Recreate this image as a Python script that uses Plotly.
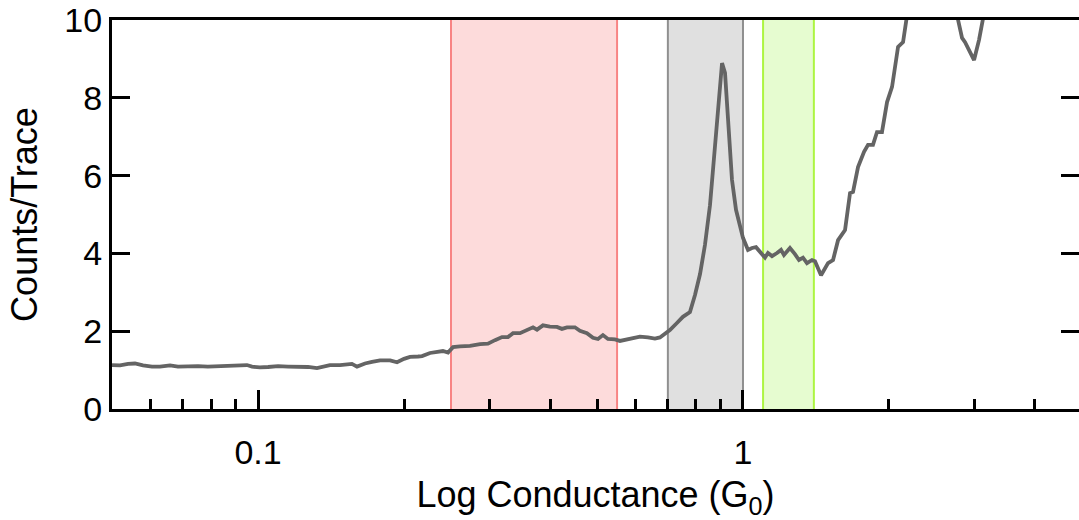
import plotly.graph_objects as go

# Conductance (G0) and counts per trace
conductance = [
    0.0500, 0.05194, 0.05395, 0.05577, 0.05793, 0.06045, 0.06279, 0.06586, 0.06840, 0.07173,
    0.07522, 0.07882, 0.08273, 0.08672, 0.09095, 0.09490, 0.09719, 0.1009, 0.1049, 0.1100,
    0.1153, 0.1209, 0.1268, 0.1323, 0.1407, 0.1476, 0.1562, 0.1600, 0.1662, 0.1718,
    0.1785, 0.1872, 0.1935, 0.2000, 0.2058, 0.2138, 0.2179, 0.2263, 0.2339, 0.2406,
    0.2465, 0.2524, 0.2609, 0.2736, 0.2869, 0.2980, 0.3081, 0.3185, 0.3277, 0.3356,
    0.3469, 0.3586, 0.3690, 0.3761, 0.3869, 0.3999, 0.4134, 0.4233, 0.4336, 0.4503,
    0.4611, 0.4767, 0.4905, 0.5023, 0.5143, 0.5267, 0.5445, 0.5576, 0.5764, 0.5931,
    0.6131, 0.6368, 0.6583, 0.6741, 0.6903, 0.7068, 0.7307, 0.7518, 0.7774, 0.7962,
    0.8155, 0.8349, 0.8550, 0.8756, 0.8966, 0.9053, 0.9182, 0.9313, 0.9491, 0.9674,
    0.9858, 1.0000, 1.0240, 1.0437, 1.0637, 1.0841, 1.1100, 1.1260, 1.1477, 1.1753,
    1.1978, 1.2147, 1.2498, 1.2798, 1.3045, 1.3295, 1.3551, 1.3876, 1.4075, 1.4485,
    1.4976, 1.5335, 1.5703, 1.6233, 1.6622, 1.6861, 1.7265, 1.7765, 1.8105, 1.8535,
    1.8893, 1.9345, 1.9817, 2.0292, 2.0880, 2.1380, 2.1689, 2.2630, 2.4300, 2.6095,
    2.7762, 2.8292, 2.8698, 2.9388, 2.9950, 3.0668, 3.1257, 3.2317, 3.5522, 4.0970,
    4.7230,
]
counts_per_trace = [
    1.13, 1.12, 1.16, 1.17, 1.12, 1.09, 1.09, 1.12, 1.09, 1.10,
    1.10, 1.09, 1.10, 1.09, 1.10, 1.13, 1.09, 1.07, 1.08, 1.10,
    1.09, 1.09, 1.08, 1.05, 1.13, 1.13, 1.16, 1.09, 1.17, 1.21,
    1.25, 1.25, 1.20, 1.29, 1.34, 1.35, 1.36, 1.44, 1.48, 1.49,
    1.45, 1.59, 1.61, 1.62, 1.67, 1.68, 1.77, 1.85, 1.85, 1.95,
    1.95, 2.03, 2.10, 2.04, 2.15, 2.12, 2.11, 2.06, 2.10, 2.10,
    2.01, 1.95, 1.83, 1.80, 1.90, 1.80, 1.79, 1.75, 1.79, 1.81,
    1.86, 1.84, 1.81, 1.84, 1.93, 2.03, 2.21, 2.37, 2.49, 2.93,
    3.47, 4.22, 5.24, 6.79, 8.33, 8.89, 8.64, 7.30, 5.89, 5.12,
    4.65, 4.40, 4.09, 4.14, 4.16, 4.04, 3.89, 4.01, 3.93, 4.01,
    4.09, 3.96, 4.14, 3.98, 3.83, 3.89, 3.75, 3.83, 3.80, 3.44,
    3.75, 3.83, 4.34, 4.60, 5.55, 5.58, 6.22, 6.61, 6.79, 6.79,
    7.12, 7.12, 7.89, 8.28, 9.31, 9.43, 10.0, 11.5, 13.0, 12.0,
    10.0, 9.54, 9.43, 9.15, 8.97, 9.49, 10.0, 11.0, 12.5, 14.0,
    15.0,
]

# Highlighted conductance windows (G0)
band_starts = [0.25, 0.70, 1.10]
band_ends = [0.55, 1.00, 1.40]
band_fills = ["#FDDBDB", "#E0E0E0", "#E6FCD0"]
band_edges = ["#F88484", "#8F8F8F", "#ADF542"]

x_tickvals = [0.1, 1]
x_ticktext = ["0.1", "1"]
x_minor = [0.06, 0.07, 0.08, 0.09, 0.2, 0.3, 0.4, 0.5, 0.6, 0.7, 0.8, 0.9, 2, 3, 4]
y_tickvals = [0, 2, 4, 6, 8, 10]

FONT = "Liberation Sans, Arial, sans-serif"

fig = go.Figure()

shapes = []
for x0, x1, fc, ec in zip(band_starts, band_ends, band_fills, band_edges):
    shapes.append(dict(type="rect", xref="x", yref="paper", x0=x0, x1=x1, y0=0, y1=1,
                       fillcolor=fc, line=dict(width=0), layer="below"))
    for xv in (x0, x1):
        shapes.append(dict(type="line", xref="x", yref="paper", x0=xv, x1=xv, y0=0, y1=1,
                           line=dict(color=ec, width=2), layer="below"))

fig.add_trace(go.Scatter(
    x=conductance, y=counts_per_trace, mode="lines",
    line=dict(color="#646464", width=3.8), showlegend=False, hoverinfo="skip",
))

fig.update_layout(
    width=1079, height=520,
    margin=dict(l=112, r=0, t=20, b=111, autoexpand=False),
    paper_bgcolor="white", plot_bgcolor="white",
    font=dict(family=FONT, color="black", size=34),
    shapes=shapes,
    xaxis=dict(
        type="log", range=[-1.30103, 0.6928], automargin=False,
        tickmode="array", tickvals=x_tickvals, ticktext=x_ticktext,
        ticks="inside", ticklen=19, tickwidth=3, tickcolor="black",
        minor=dict(tickmode="array", tickvals=x_minor, ticks="inside",
                   ticklen=10, tickwidth=3, tickcolor="black", showgrid=False),
        showline=True, linewidth=3, linecolor="black", mirror=True,
        showgrid=False, zeroline=False, ticklabelstandoff=11,
        tickfont=dict(size=34, family=FONT),
        title=dict(text="Log Conductance (G<sub>0</sub>)", font=dict(size=36, family=FONT), standoff=15),
    ),
    yaxis=dict(
        range=[0, 10], tickmode="array", tickvals=y_tickvals, automargin=False,
        ticks="inside", ticklen=18, tickwidth=3, tickcolor="black",
        showline=True, linewidth=3, linecolor="black", mirror="ticks",
        showgrid=False, zeroline=False, ticklabeloverflow="allow",
        tickfont=dict(size=34, family=FONT),
        title=dict(text="Counts/Trace", font=dict(size=36, family=FONT), standoff=16),
    ),
)

# Remove the default page margin so the figure fills the 1079x520 window exactly
fig.write_html("out.html", config={"displayModeBar": False},
               post_script="document.body.style.margin='0';")
